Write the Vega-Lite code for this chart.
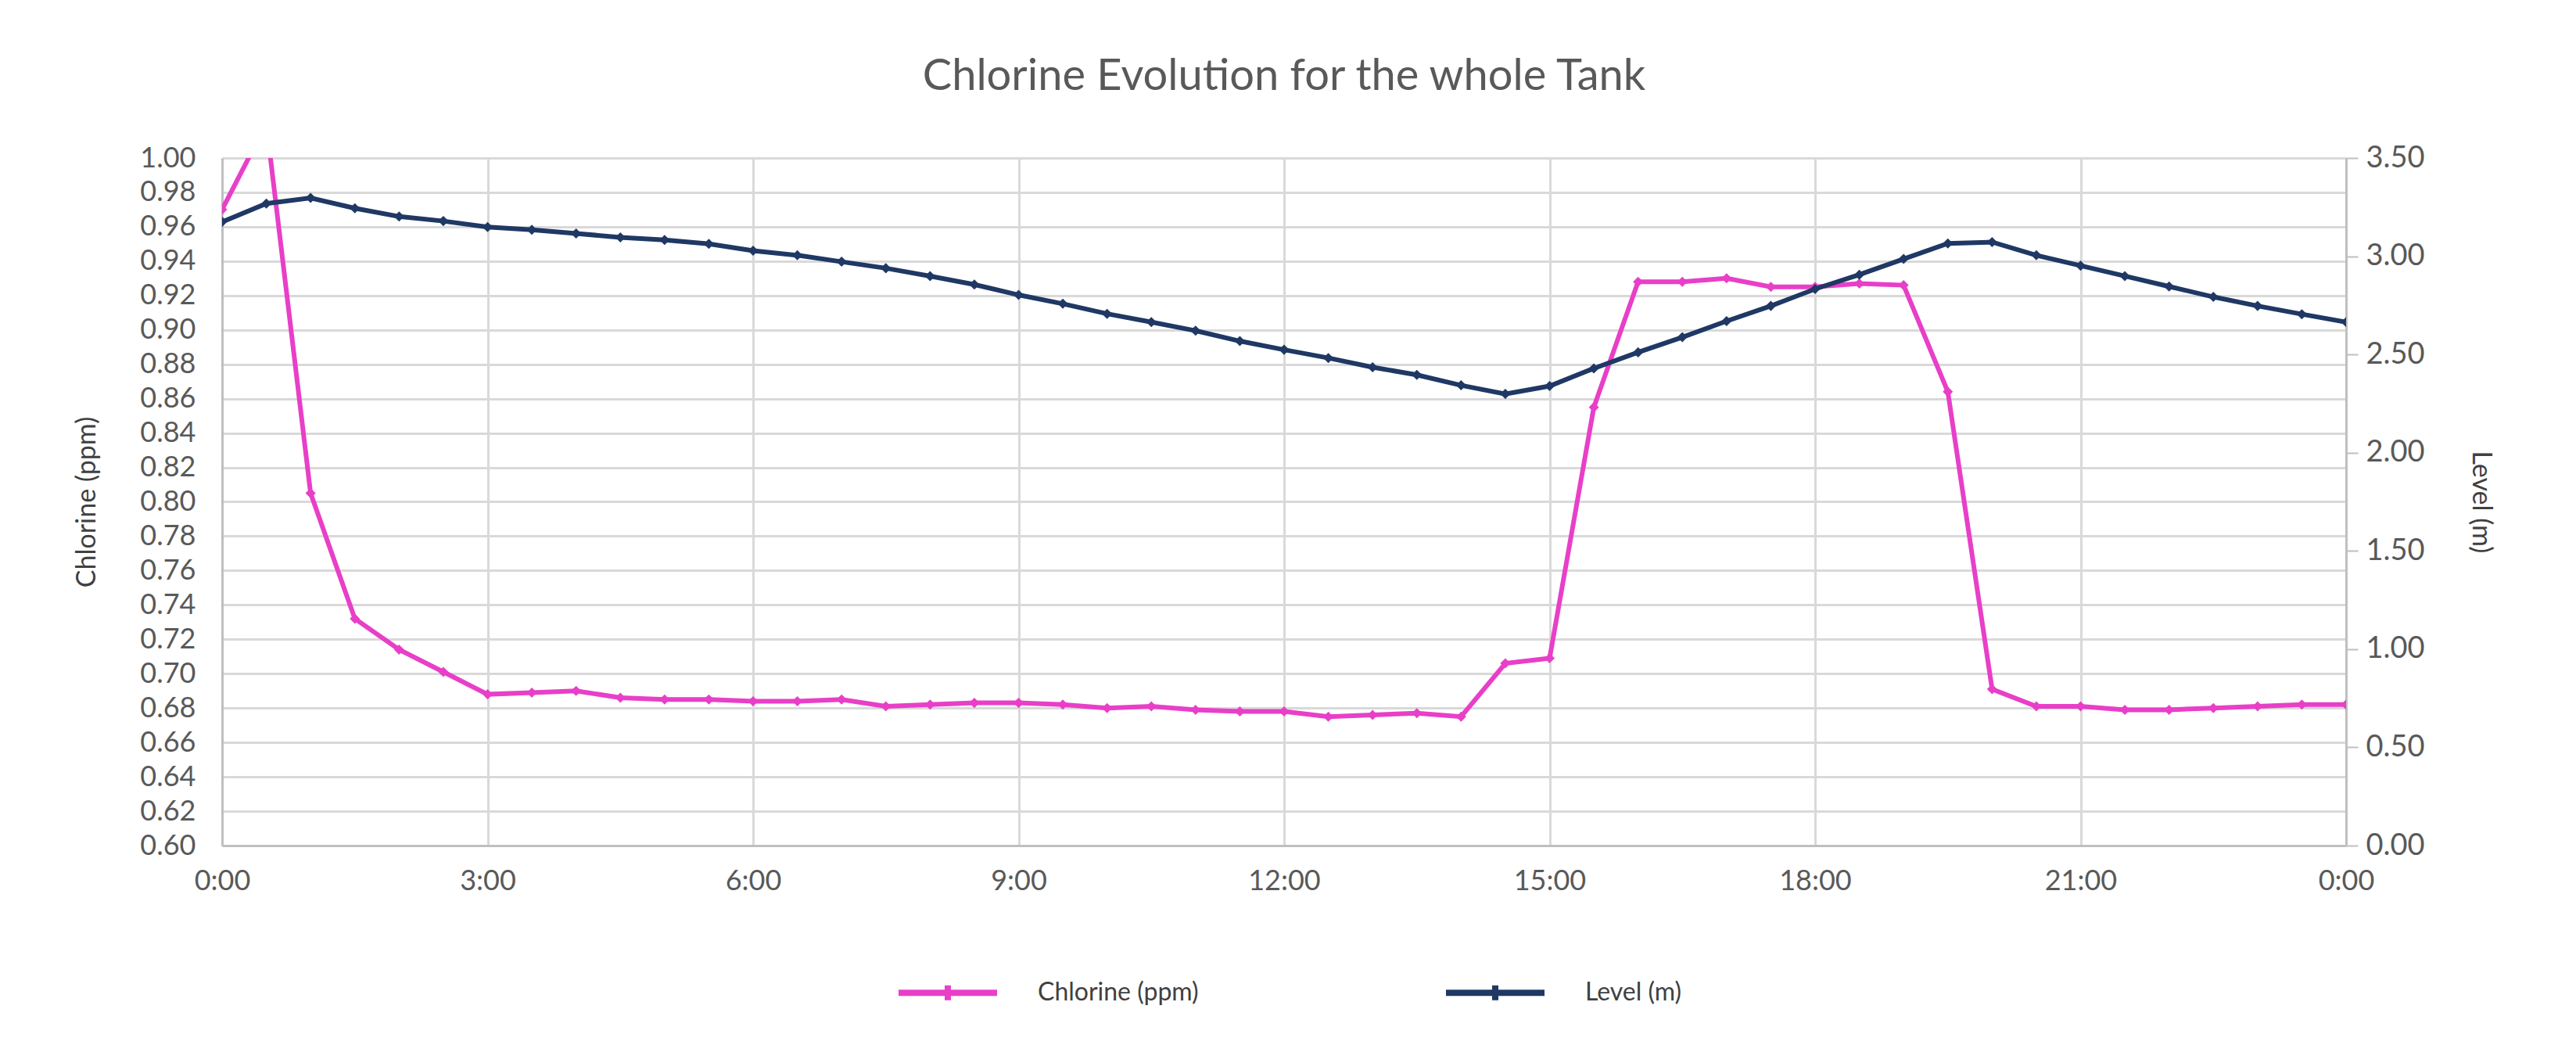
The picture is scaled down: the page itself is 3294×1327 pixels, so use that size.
{
  "$schema": "https://vega.github.io/schema/vega-lite/v6.json",
  "autosize": {"type": "none"},
  "width": 2716,
  "height": 879,
  "padding": {"left": 284, "top": 202, "right": 294, "bottom": 246},
  "background": "white",
  "config": {
    "font": "Lato",
    "view": {"stroke": null},
    "axis": {"labelColor": "#595959", "titleColor": "#404040", "labelFont": "Lato", "titleFont": "Lato"}
  },
  "title": {
    "text": "Chlorine Evolution for the whole Tank",
    "fontSize": 56,
    "fontWeight": "normal",
    "color": "#595959",
    "font": "Lato",
    "offset": 56,
    "anchor": "middle"
  },
  "data": {
    "values": [
      {"t": 0, "chlorine": 0.970, "level": 3.175},
      {"t": 0.5, "chlorine": 1.020, "level": 3.268},
      {"t": 1, "chlorine": 0.805, "level": 3.297},
      {"t": 1.5, "chlorine": 0.732, "level": 3.244},
      {"t": 2, "chlorine": 0.714, "level": 3.202},
      {"t": 2.5, "chlorine": 0.701, "level": 3.179},
      {"t": 3, "chlorine": 0.688, "level": 3.149},
      {"t": 3.5, "chlorine": 0.689, "level": 3.135},
      {"t": 4, "chlorine": 0.690, "level": 3.116},
      {"t": 4.5, "chlorine": 0.686, "level": 3.096},
      {"t": 5, "chlorine": 0.685, "level": 3.083},
      {"t": 5.5, "chlorine": 0.685, "level": 3.063},
      {"t": 6, "chlorine": 0.684, "level": 3.028},
      {"t": 6.5, "chlorine": 0.684, "level": 3.005},
      {"t": 7, "chlorine": 0.685, "level": 2.972},
      {"t": 7.5, "chlorine": 0.681, "level": 2.939},
      {"t": 8, "chlorine": 0.682, "level": 2.899},
      {"t": 8.5, "chlorine": 0.683, "level": 2.856},
      {"t": 9, "chlorine": 0.683, "level": 2.803},
      {"t": 9.5, "chlorine": 0.682, "level": 2.758},
      {"t": 10, "chlorine": 0.680, "level": 2.707},
      {"t": 10.5, "chlorine": 0.681, "level": 2.665},
      {"t": 11, "chlorine": 0.679, "level": 2.621},
      {"t": 11.5, "chlorine": 0.678, "level": 2.568},
      {"t": 12, "chlorine": 0.678, "level": 2.524},
      {"t": 12.5, "chlorine": 0.675, "level": 2.482},
      {"t": 13, "chlorine": 0.676, "level": 2.435},
      {"t": 13.5, "chlorine": 0.677, "level": 2.396},
      {"t": 14, "chlorine": 0.675, "level": 2.343},
      {"t": 14.5, "chlorine": 0.706, "level": 2.299},
      {"t": 15, "chlorine": 0.709, "level": 2.339},
      {"t": 15.5, "chlorine": 0.855, "level": 2.429},
      {"t": 16, "chlorine": 0.928, "level": 2.511},
      {"t": 16.5, "chlorine": 0.928, "level": 2.588},
      {"t": 17, "chlorine": 0.930, "level": 2.670},
      {"t": 17.5, "chlorine": 0.925, "level": 2.747},
      {"t": 18, "chlorine": 0.925, "level": 2.833},
      {"t": 18.5, "chlorine": 0.927, "level": 2.906},
      {"t": 19, "chlorine": 0.926, "level": 2.986},
      {"t": 19.5, "chlorine": 0.864, "level": 3.065},
      {"t": 20, "chlorine": 0.691, "level": 3.072},
      {"t": 20.5, "chlorine": 0.681, "level": 3.005},
      {"t": 21, "chlorine": 0.681, "level": 2.952},
      {"t": 21.5, "chlorine": 0.679, "level": 2.899},
      {"t": 22, "chlorine": 0.679, "level": 2.846},
      {"t": 22.5, "chlorine": 0.680, "level": 2.793},
      {"t": 23, "chlorine": 0.681, "level": 2.747},
      {"t": 23.5, "chlorine": 0.682, "level": 2.705},
      {"t": 24, "chlorine": 0.682, "level": 2.665}
    ]
  },
  "encoding": {
    "x": {
      "field": "t",
      "type": "quantitative",
      "scale": {"domain": [0, 24], "nice": false, "zero": false},
      "axis": {
        "title": null,
        "values": [0, 3, 6, 9, 12, 15, 18, 21, 24],
        "labelExpr": "floor(datum.value % 24) + ':00'",
        "grid": true,
        "gridColor": "#d9d9d9",
        "gridWidth": 3,
        "domainColor": "#bfbfbf",
        "domainWidth": 3,
        "ticks": false,
        "labelPadding": 28,
        "labelFontSize": 36,
        "labelFlush": false
      }
    }
  },
  "layer": [
    {
      "mark": {
        "type": "line",
        "clip": true,
        "strokeWidth": 6,
        "point": {"filled": true, "size": 170, "shape": "diamond", "clip": true}
      },
      "encoding": {
        "y": {
          "field": "chlorine",
          "type": "quantitative",
          "scale": {"domain": [0.6, 1.0], "nice": false, "zero": false},
          "axis": {
            "title": "Chlorine (ppm)",
            "titleFontSize": 34,
            "titleFontWeight": "normal",
            "titlePadding": 50,
            "values": [0.6, 0.62, 0.64, 0.66, 0.68, 0.7, 0.72, 0.74, 0.76, 0.78, 0.8, 0.82, 0.84, 0.86, 0.88, 0.9, 0.92, 0.94, 0.96, 0.98, 1.0],
            "format": ".2f",
            "grid": true,
            "gridColor": "#d9d9d9",
            "gridWidth": 3,
            "domainColor": "#bfbfbf",
            "domainWidth": 3,
            "ticks": false,
            "labelPadding": 34,
            "labelFontSize": 36
          }
        },
        "color": {
          "datum": "Chlorine (ppm)",
          "type": "nominal",
          "scale": {"domain": ["Chlorine (ppm)", "Level (m)"], "range": ["#E83FC8", "#1F3864"]},
          "legend": {
            "title": null,
            "orient": "none",
            "legendX": 861,
            "legendY": 1000,
            "direction": "horizontal",
            "symbolType": "M-1,0H1M0,-0.15V0.15",
            "symbolSize": 15876,
            "symbolStrokeWidth": 8,
            "labelFontSize": 32,
            "labelLimit": 0,
            "labelColor": "#404040",
            "labelFont": "Lato",
            "labelOffset": 48,
            "columnPadding": 300
          }
        }
      }
    },
    {
      "mark": {
        "type": "line",
        "clip": true,
        "strokeWidth": 6,
        "point": {"filled": true, "size": 170, "shape": "diamond", "clip": true}
      },
      "encoding": {
        "y": {
          "field": "level",
          "type": "quantitative",
          "scale": {"domain": [0, 3.5], "nice": false, "zero": false},
          "axis": {
            "orient": "right",
            "title": "Level (m)",
            "titleFontSize": 34,
            "titleFontWeight": "normal",
            "titlePadding": 54,
            "values": [0, 0.5, 1, 1.5, 2, 2.5, 3, 3.5],
            "format": ".2f",
            "grid": false,
            "domainColor": "#bfbfbf",
            "domainWidth": 3,
            "ticks": true,
            "tickSize": 15,
            "tickColor": "#bfbfbf",
            "tickWidth": 2,
            "labelPadding": 10,
            "labelFontSize": 38
          }
        },
        "color": {"datum": "Level (m)", "type": "nominal"}
      }
    }
  ],
  "resolve": {"scale": {"y": "independent"}}
}
